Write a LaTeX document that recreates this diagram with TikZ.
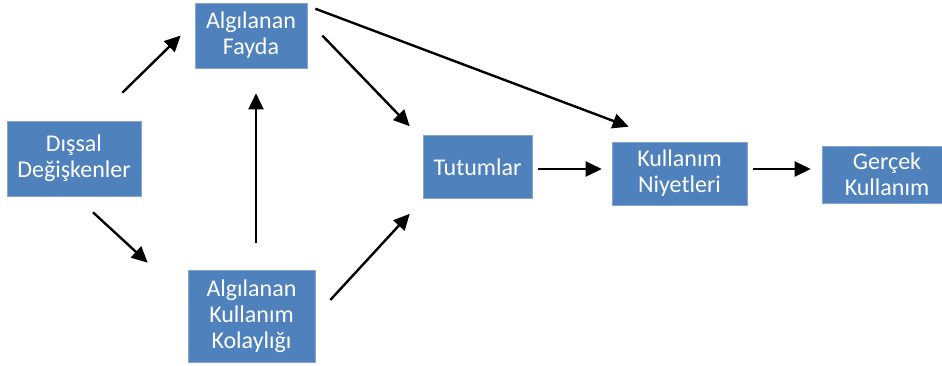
\documentclass[tikz,border=0pt]{standalone}
\usepackage{fontspec}
\setmainfont{Carlito}
\usetikzlibrary{arrows.meta}
\definecolor{boxblue}{HTML}{4F81BD}

\begin{document}
\begin{tikzpicture}[x=1pt,y=-1pt,
  box/.style={fill=boxblue,draw=boxblue!70!white,line width=0.6pt,text=white,align=center,
    inner sep=0pt,font=\fontsize{24}{26}\selectfont},
  arr/.style={line width=2.4pt,-{Triangle[length=16pt,width=15pt]}}]
\useasboundingbox[clip] (0,0) rectangle (942,365);
\node[box,minimum width=134pt,minimum height=75pt] (dd) at (74,158.5) {Dışsal\\Değişkenler};
\node[box,minimum width=112pt,minimum height=65pt] (af) at (251,35.5) {Algılanan\\Fayda};
\node[box,minimum width=127pt,minimum height=92pt] (akk) at (251.5,316) {Algılanan\\Kullanım\\Kolaylığı};
\node[box,minimum width=109pt,minimum height=63pt] (tut) at (477.5,167) {Tutumlar};
\node[box,minimum width=135pt,minimum height=63pt] (kn) at (679.5,173.5) {Kullanım\\Niyetleri};
\node[box,minimum width=130pt,minimum height=57pt] (gk) at (887,174.5) {Gerçek\\Kullanım};
% connectors
\draw[arr] ([shift={(-19,-28)}]dd.north east) -- ([shift={(-14,0)}]af.west);
\draw[arr] ([shift={(19,16)}]dd.south) -- ([shift={(-40,-7)}]akk.north west);
\draw[arr] ([shift={(4.5,-27)}]akk.north) -- ([shift={(5,25)}]af.south);
\draw[arr] ([shift={(15,0)}]af.east) -- ([shift={(-13,-9)}]tut.north west);
\draw[arr] ([shift={(15,-16)}]akk.east) -- ([shift={(-13,15)}]tut.south west);
\draw[arr] ([shift={(8,6)}]af.north east) -- ([shift={(17,-15)}]kn.north west);
\draw[arr] ([shift={(6,2)}]tut.east) -- ([shift={(-10,-4.5)}]kn.west);
\draw[arr] ([shift={(6,-4.5)}]kn.east) -- ([shift={(-11,-5.5)}]gk.west);
\end{tikzpicture}
\end{document}
